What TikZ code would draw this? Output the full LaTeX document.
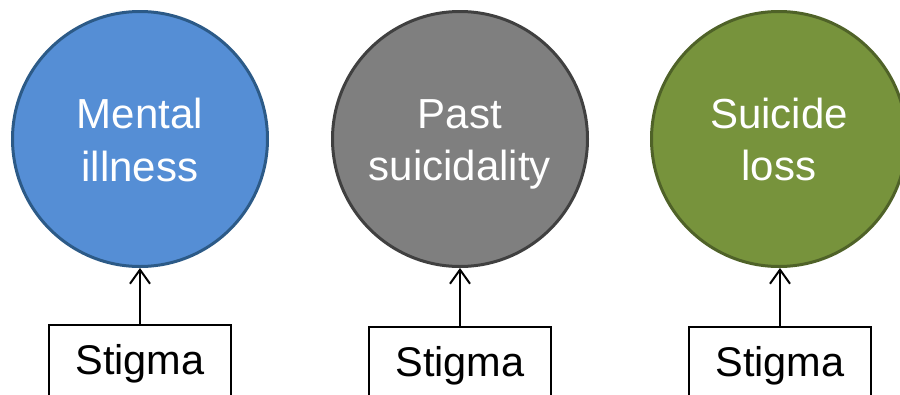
\documentclass[tikz,border=0pt]{standalone}
\usepackage{fontspec}
\setmainfont{Liberation Sans}
\usetikzlibrary{arrows.meta}
\definecolor{bluefill}{HTML}{558ED5}
\definecolor{blueedge}{HTML}{2C5A87}
\definecolor{grayfill}{HTML}{7F7F7F}
\definecolor{grayedge}{HTML}{404040}
\definecolor{greenfill}{HTML}{77933C}
\definecolor{greenedge}{HTML}{4F6228}
\tikzset{
  bubble/.style={circle, minimum size=255pt, inner sep=0pt, line width=3pt},
  bubbletext/.style={anchor=base, text=white, inner sep=0pt, font=\fontsize{42}{50}\selectfont},
  stigmabox/.style={draw=black, line width=1.8pt, anchor=north, minimum width=182pt,
    text height=29pt, text depth=0pt, inner ysep=21pt, inner xsep=0pt,
    font=\fontsize{41.5}{50}\selectfont},
  uparrow/.style={draw=black, line width=2pt, -{Straight Barb[length=14pt,width=20pt,line width=2pt]}}
}
\begin{document}
\begin{tikzpicture}[x=1pt,y=-1pt]
\useasboundingbox (0,0) rectangle (900,394);
% circles
\node[bubble, fill=bluefill, draw=blueedge] (c1) at (140,139) {};
\node[bubble, fill=grayfill, draw=grayedge] (c2) at (460,139) {};
\node[bubble, fill=greenfill, draw=greenedge] (c3) at (779,139) {};
% circle labels
\node[bubbletext] (c1a) at (140,128) {Mental};
\node[bubbletext] (c1b) at (140,181) {illness};
\node[bubbletext] (c2a) at (460,128) {Past};
\node[bubbletext] (c2b) at (460,180) {suicidality};
\node[bubbletext] (c3a) at (779,128) {Suicide};
\node[bubbletext] (c3b) at (779,180) {loss};
% stigma boxes
\node[stigmabox] (s1) at (140,324) {Stigma};
\node[stigmabox] (s2) at (460,326) {Stigma};
\node[stigmabox] (s3) at (780,326) {Stigma};
% arrows
\draw[uparrow] (s1.north) -- (c1.south);
\draw[uparrow] (s2.north) -- (c2.south);
\draw[uparrow] (s3.north) -- (c3.south -| s3.north);
\end{tikzpicture}
\end{document}
